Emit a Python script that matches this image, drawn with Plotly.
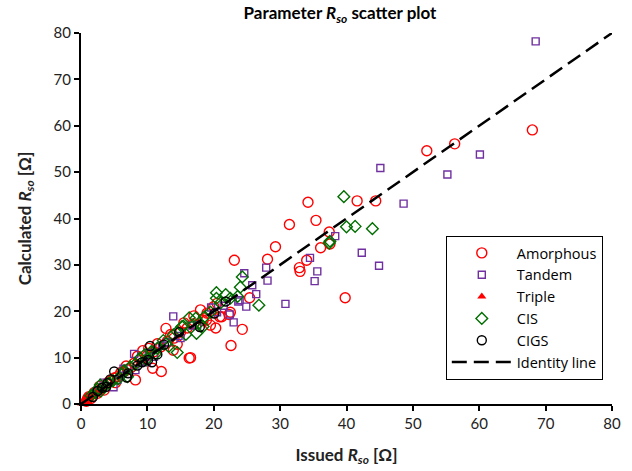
import plotly.graph_objects as go

# Issued vs calculated series resistance R_so for several PV technologies
amorphous_x = [68.0, 56.3, 52.1, 41.6, 44.4, 34.2, 31.4, 35.4, 37.4, 37.5, 36.1, 29.3, 34.0,
               23.1, 28.1, 32.9, 33.0, 39.8, 25.4, 18.0, 22.5, 22.3, 20.9, 24.3, 20.3, 22.6,
               18.4, 12.8, 16.3, 16.5, 12.1, 10.8, 14.5, 9.3, 8.2, 20.5, 18.9, 21.2, 13.9,
               2.0, 3.0, 4.0, 5.0, 6.0, 7.0, 8.0, 9.0, 10.0, 11.0, 12.0, 13.0, 14.0, 15.0,
               16.0, 17.0, 19.0, 20.0, 15.5, 13.5, 11.5, 8.5, 6.8, 10.2, 17.0, 19.5,
               1.0, 1.5, 2.5, 3.5, 0.8, 1.2, 2.8, 4.5, 5.5, 6.5, 7.5, 5.2]
amorphous_y = [59.1, 56.1, 54.6, 43.8, 43.8, 43.5, 38.7, 39.6, 37.1, 34.5, 33.7, 33.9, 31.0,
               31.0, 31.2, 29.4, 28.6, 22.9, 22.9, 20.3, 19.8, 19.3, 18.8, 16.1, 16.4, 12.6,
               18.0, 16.3, 9.9, 10.0, 7.0, 7.7, 12.9, 11.5, 5.2, 21.7, 18.1, 18.8, 11.6,
               2.5, 3.3, 4.6, 5.6, 6.8, 7.4, 8.8, 9.4, 10.5, 11.3, 12.3, 13.5, 14.2, 15.5,
               16.4, 17.3, 19.6, 21.0, 17.5, 15.0, 13.0, 10.3, 8.2, 12.0, 19.0, 17.0,
               1.2, 1.2, 2.3, 3.0, 0.6, 1.6, 3.8, 5.0, 5.9, 7.0, 7.8, 4.6]

tandem_x = [68.5, 60.1, 55.2, 45.1, 48.6, 38.3, 34.5, 35.6, 35.2, 42.3, 44.9, 30.8, 27.9,
            24.6, 28.1, 25.8, 26.4, 24.9, 23.9, 22.4, 23.0, 19.6, 13.9, 16.7, 12.2, 8.0,
            6.4, 8.2, 3.4, 4.9, 14.7, 9.9, 23.7, 2.5, 5.5, 9.5, 11.0, 15.0, 17.5, 20.5,
            21.5, 13.0, 10.2, 7.0]
tandem_y = [78.2, 53.8, 49.5, 50.9, 43.2, 36.2, 31.5, 28.6, 26.5, 32.6, 29.8, 21.6, 29.4,
            28.2, 26.6, 25.6, 23.7, 21.0, 22.4, 19.3, 17.6, 20.8, 18.9, 16.9, 12.6, 10.8,
            7.6, 7.3, 4.6, 3.6, 14.7, 9.1, 22.1, 2.8, 5.2, 9.0, 10.2, 14.2, 17.0, 19.8,
            21.2, 13.3, 11.0, 6.5]

triple_x = [0.3, 0.5, 0.6, 0.8, 1.0, 1.1, 1.3, 1.5, 1.6, 1.8, 2.0, 2.2, 2.4, 2.6, 0.4,
            0.7, 0.9, 1.2, 1.4, 1.7, 1.9, 2.1, 2.5, 2.8, 3.0, 0.2, 1.0, 1.5, 2.3, 0.5,
            1.3, 3.2, 0.1]
triple_y = [0.4, 0.5, 0.8, 0.9, 1.1, 1.3, 1.4, 1.5, 1.9, 2.0, 2.1, 2.4, 2.6, 3.0, 0.2,
            0.5, 0.7, 1.0, 1.2, 1.6, 1.7, 2.0, 2.3, 2.7, 3.2, 0.3, 0.8, 1.8, 2.0, 0.7,
            1.6, 3.0, 0.1]

cis_x = [39.6, 40.0, 41.3, 43.9, 37.4, 37.5, 24.3, 24.0, 21.8, 23.6, 26.8, 20.4, 20.4,
         16.3, 17.3, 18.6, 15.4, 14.5, 13.9, 12.4, 14.5, 10.6, 8.9, 9.6, 7.4, 5.6, 7.0,
         2.9, 17.4, 18.4, 1.5, 2.2, 3.5, 4.2, 4.8, 6.2, 8.2, 11.5, 12.8, 19.5, 21.0,
         22.5, 11.2, 13.2, 15.8, 17.8, 6.5, 9.8, 3.0, 2.5, 15.2]
cis_y = [44.7, 38.2, 38.3, 37.8, 34.7, 35.1, 27.4, 25.2, 23.6, 23.2, 21.3, 24.0, 22.8,
         18.6, 18.5, 18.8, 16.8, 15.6, 14.9, 13.7, 11.1, 11.3, 9.9, 10.6, 8.0, 5.4, 5.9,
         4.1, 15.2, 16.7, 1.8, 2.5, 3.8, 4.5, 5.0, 6.4, 8.6, 12.0, 13.0, 19.8, 21.8,
         22.8, 10.8, 12.4, 15.0, 17.5, 7.2, 9.5, 2.8, 3.2, 16.7]

cigs_x = [21.8, 20.1, 17.9, 10.4, 11.5, 10.7, 5.0, 7.1, 6.9, 4.4, 4.0, 3.8, 10.1, 8.5,
          9.2, 2.5, 3.2, 12.5, 14.8, 1.8]
cigs_y = [22.1, 19.5, 16.6, 12.5, 10.7, 9.0, 7.0, 6.6, 5.7, 5.3, 4.5, 3.7, 9.5, 8.3,
          9.0, 2.8, 3.5, 12.8, 15.5, 1.5]

identity_x = [0, 80]
identity_y = [0, 80]

FONT = "Lato"
LEGEND_FONT = "Open Sans"

fig = go.Figure()
fig.add_trace(go.Scatter(x=amorphous_x, y=amorphous_y, mode="markers", name="Amorphous",
                         marker=dict(symbol="circle-open", size=10, color="#FF0000",
                                     line=dict(width=1.4, color="#FF0000")),
                         cliponaxis=False))
fig.add_trace(go.Scatter(x=tandem_x, y=tandem_y, mode="markers", name="Tandem",
                         marker=dict(symbol="square-open", size=7, color="#7030A0",
                                     line=dict(width=1.4, color="#7030A0")),
                         cliponaxis=False))
fig.add_trace(go.Scatter(x=triple_x, y=triple_y, mode="markers", name="Triple",
                         marker=dict(symbol="triangle-up", size=8, color="#FF0000",
                                     line=dict(width=0)),
                         cliponaxis=False))
fig.add_trace(go.Scatter(x=cis_x, y=cis_y, mode="markers", name="CIS",
                         marker=dict(symbol="diamond-open", size=9, color="#006E00",
                                     line=dict(width=1.4, color="#006E00")),
                         cliponaxis=False))
fig.add_trace(go.Scatter(x=cigs_x, y=cigs_y, mode="markers", name="CIGS",
                         marker=dict(symbol="circle-open", size=9, color="#000000",
                                     line=dict(width=1.4, color="#000000")),
                         cliponaxis=False))
fig.add_trace(go.Scatter(x=identity_x, y=identity_y, mode="lines", name="Identity line",
                         line=dict(color="#000000", width=2.5, dash="15px,7px")))

axis_common = dict(range=[0, 80], dtick=10, showgrid=False, zeroline=False,
                   showline=True, linewidth=2, linecolor="#000000",
                   ticks="outside", ticklen=5, tickwidth=1.5, tickcolor="#000000",
                   tickfont=dict(family=FONT, size=15, color="#222222"),
                   automargin=False)

fig.update_layout(
    width=632, height=471, autosize=False,
    margin=dict(l=81, r=20, t=33, b=67),
    paper_bgcolor="white", plot_bgcolor="white",
    title=dict(text="<b>Parameter <i>R</i><sub><i>so</i></sub> scatter plot</b>",
               x=0.538, xanchor="center", y=0.972, yanchor="middle",
               font=dict(family=FONT, size=17, color="#000000")),
    xaxis=dict(axis_common,
               title=dict(text="<b>Issued <i>R</i><sub><i>so</i></sub> [Ω]</b>", standoff=18,
                          font=dict(family=FONT, size=17, color="#222222"))),
    yaxis=dict(axis_common,
               title=dict(text="<b>Calculated <i>R</i><sub><i>so</i></sub> [Ω]</b>", standoff=18,
                          font=dict(family=FONT, size=17, color="#222222"))),
    legend=dict(x=0.687, y=0.453, xanchor="left", yanchor="top",
                bordercolor="#000000", borderwidth=1, bgcolor="white",
                font=dict(family=LEGEND_FONT, size=14.5, color="#000000"),
                tracegroupgap=0, itemwidth=60),
    showlegend=True,
)

fig.write_html("out.html")
